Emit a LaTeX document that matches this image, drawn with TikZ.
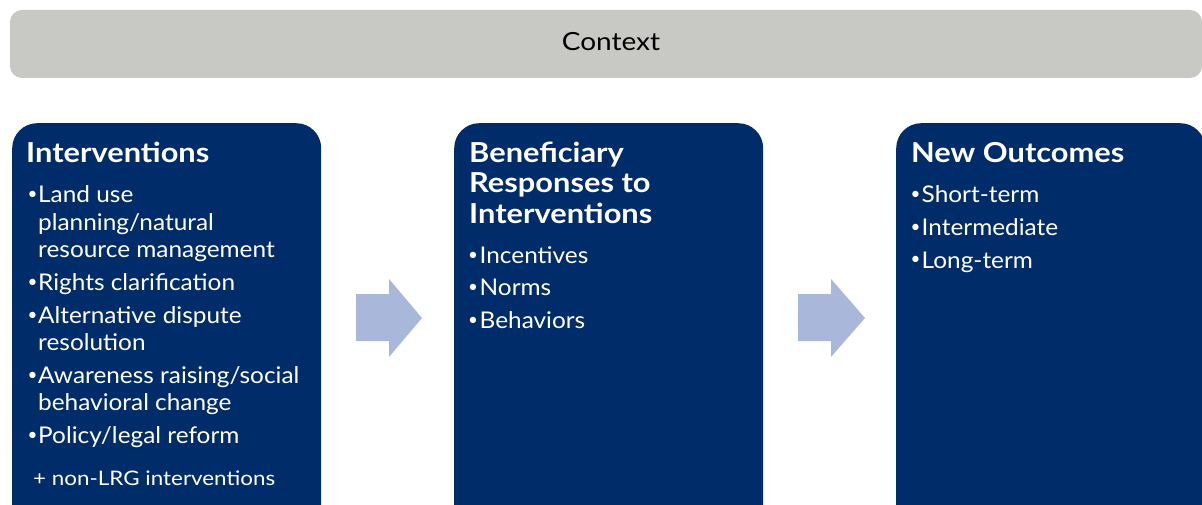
\documentclass[tikz,border=0pt]{standalone}
\usepackage{fontspec}
\setmainfont{Lato}
\definecolor{navy}{HTML}{002D6A}
\definecolor{ctxgray}{HTML}{C8C9C4}
\definecolor{arrowblue}{HTML}{A9B8DA}
\begin{document}
\begin{tikzpicture}[x=1pt,y=-1pt,
  panel/.style={fill=navy, rounded corners=25pt, draw=none, minimum width=309pt, minimum height=420pt, anchor=north west, inner sep=0pt},
  ttl/.style={anchor=base west, inner sep=0pt, text=white, font=\fontsize{27.5}{30}\selectfont\bfseries\addfontfeature{FakeStretch=1.12}},
  itm/.style={anchor=base west, inner sep=0pt, text=white, font=\fontsize{23}{27.5}\selectfont\addfontfeature{FakeStretch=1.06}},
  bul/.style={anchor=base, inner sep=0pt, text=white, font=\fontsize{17}{17}\selectfont},
  blockarrow/.style={fill=arrowblue}
]
\useasboundingbox (0,0) rectangle (1202,505);
\clip (0,0) rectangle (1202,505);
\fill[ctxgray, rounded corners=12pt] (10,10) rectangle (1202,78);
\node[anchor=base, inner sep=0pt, font=\fontsize{25}{25}\selectfont\addfontfeature{FakeStretch=1.12}] (ctx) at (611,50.5) {Context};

\node[panel] (p1) at (12,123) {};
\node[panel] (p2) at (454,123) {};
\node[panel] (p3) at (896,123) {};

% arrows
\fill[blockarrow] (356,294)--(389,294)--(389,279)--(422,318)--(389,357)--(389,341)--(356,341)--cycle;
\fill[blockarrow] (798,294)--(831,294)--(831,279)--(865,318)--(831,357)--(831,341)--(798,341)--cycle;

% panel 1
\node[ttl] (t1) at (26,163) {Interventions};
\node[bul] (b11) at (32.5,200) {•};
\node[itm] (i11a) at (38,203) {Land use};
\node[itm] (i11b) at (38,230.5) {planning/natural};
\node[itm] (i11c) at (38,258) {resource management};
\node[bul] (b12) at (32.5,287.5) {•};
\node[itm] (i12) at (38,290.5) {Rights clarification};
\node[bul] (b13) at (32.5,320) {•};
\node[itm] (i13a) at (38,323) {Alternative dispute};
\node[itm] (i13b) at (38,350.5) {resolution};
\node[bul] (b14) at (32.5,380) {•};
\node[itm] (i14a) at (38,383) {Awareness raising/social};
\node[itm] (i14b) at (38,410.5) {behavioral change};
\node[bul] (b15) at (32.5,440) {•};
\node[itm] (i15) at (38,443) {Policy/legal reform};
\node[anchor=base west, inner sep=0pt, text=white, font=\fontsize{20}{22}\selectfont\addfontfeature{FakeStretch=1.12}] (nl) at (33,485) {+ non-LRG interventions};

% panel 2
\node[ttl] (t2a) at (469,163) {Beneficiary};
\node[ttl] (t2b) at (469,193) {Responses to};
\node[ttl] (t2c) at (469,223) {Interventions};
\node[bul] (b21) at (473,260) {•};
\node[itm] (i21) at (479.5,263) {Incentives};
\node[bul] (b22) at (473,292.5) {•};
\node[itm] (i22) at (479.5,295.5) {Norms};
\node[bul] (b23) at (473,325) {•};
\node[itm] (i23) at (479.5,328) {Behaviors};

% panel 3
\node[ttl] (t3) at (911,163) {New Outcomes};
\node[bul] (b31) at (915.5,200) {•};
\node[itm] (i31) at (921.5,203) {Short-term};
\node[bul] (b32) at (915.5,232.5) {•};
\node[itm] (i32) at (921.5,235.5) {Intermediate};
\node[bul] (b33) at (915.5,265) {•};
\node[itm] (i33) at (921.5,268) {Long-term};
\end{tikzpicture}
\end{document}
